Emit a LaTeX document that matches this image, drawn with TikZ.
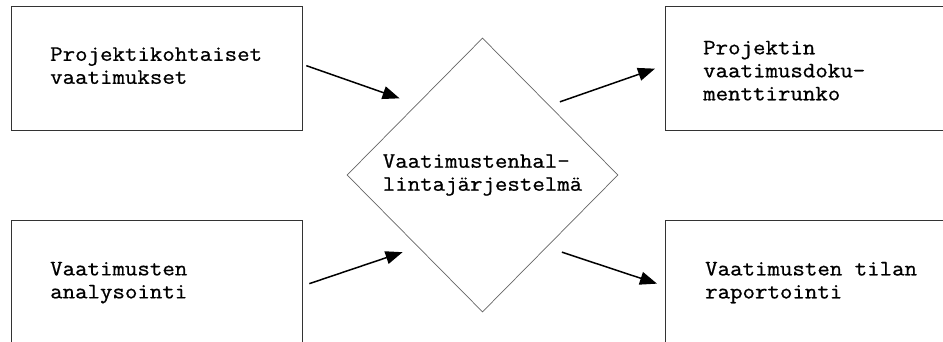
\documentclass[tikz,border=0pt]{standalone}
\usepackage{fontspec}
\newfontfamily\monof{Latin Modern Mono}[FakeStretch=1.1,FakeBold=0.8]
\usetikzlibrary{shapes.geometric,arrows.meta,calc}
\begin{document}
\begin{tikzpicture}[x=1pt,y=-1pt,
  box/.style={draw=black!80,line width=1.3pt,minimum width=291pt,minimum height=124pt,inner sep=0pt,anchor=north west},
  lbl/.style={font=\monof\fontsize{22}{23}\selectfont,align=left,inner sep=0pt,anchor=west},
  hub/.style={draw=black!60,line width=0.7pt,diamond,minimum width=271pt,minimum height=274pt,inner sep=0pt,font=\monof\fontsize{22}{23}\selectfont,align=left},
  flow/.style={line width=1.5pt,-{Triangle[length=17pt,width=13pt]}}]
\useasboundingbox (0,0) rectangle (943,341);
\fill[white] (0,0) rectangle (943,341);
\clip (0,0) rectangle (943,341);
\node[box] (tl) at (11,6) {};
\node[box] (bl) at (11,220) {};
\node[box] (tr) at (665,6) {};
\node[box] (br) at (665,220) {};
\node[lbl] (tlt) at ($(tl.west)+(39,-3)$) {Projektikohtaiset\\vaatimukset};
\node[lbl] (blt) at ($(bl.west)+(39,0)$) {Vaatimusten\\analysointi};
\node[lbl] (trt) at ($(tr.west)+(38,2)$) {Projektin\\vaatimusdoku-\\menttirunko};
\node[lbl] (brt) at ($(br.west)+(40,0)$) {Vaatimusten tilan\\raportointi};
\node[hub] (d) at (482.5,175) {Vaatimustenhal-\\lintajärjestelmä};
\draw[flow] ($(tl.east)+(3,-3)$) -- ($(d.west)!0.5!(d.north)+(-15,-8)$);
\draw[flow] ($(bl.east)+(6,1)$) -- ($(d.west)!0.5!(d.south)+(-12,8.5)$);
\draw[flow] ($(d.north)!0.5!(d.east)+(9.5,-4.5)$) -- ($(tr.west)+(-10,0)$);
\draw[flow] ($(d.south)!0.5!(d.east)+(11.5,8.5)$) -- ($(br.west)+(-8,1)$);
\end{tikzpicture}
\end{document}
